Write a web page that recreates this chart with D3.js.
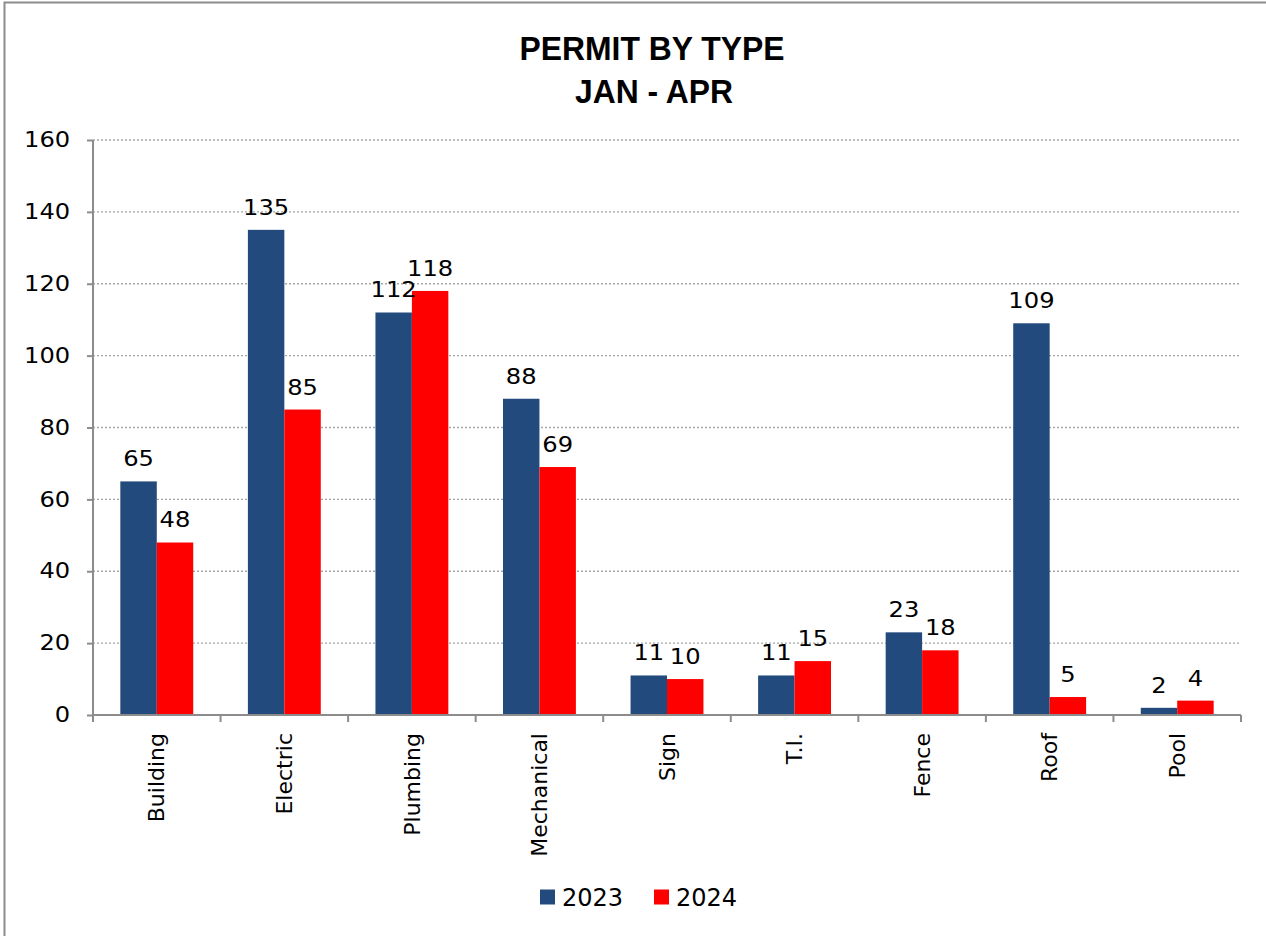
<!DOCTYPE html>
<html><head><meta charset="utf-8">
<script src="https://cdn.jsdelivr.net/npm/d3@7"></script>
<style>body{margin:0;background:#fff}svg{display:block}</style>
</head><body>
<script>
const categories = ["Building","Electric","Plumbing","Mechanical","Sign","T.I.","Fence","Roof","Pool"];
const series = ["2023","2024"];
const values2023 = [65,135,112,88,11,11,23,109,2];
const values2024 = [48,85,118,69,10,15,18,5,4];
const yTicks = [0,20,40,60,80,100,120,140,160];
const colors = ["#234A7C","#FF0000"];

const W=1266,H=936;
const svg=d3.select("body").append("svg").attr("width",W).attr("height",H);
svg.append("path").attr("d",`M4.5,${H} V2.5 H${W}`).attr("fill","none").attr("stroke","#8c8c8c").attr("stroke-width",2);

const m={l:93,r:1241,t:140,b:715};
const x=d3.scaleBand().domain(categories).range([m.l,m.r]).paddingInner(0).paddingOuter(0);
const xs=d3.scaleBand().domain(series).range([0,x.bandwidth()]).paddingInner(0).paddingOuter(0.75);
const y=d3.scaleLinear().domain([0,160]).range([m.b,m.t]);

const font="'DejaVu Sans', sans-serif";
svg.append("g").selectAll("line").data(yTicks.filter(d=>d>0)).join("line")
  .attr("x1",m.l).attr("x2",m.r).attr("y1",d=>y(d)).attr("y2",d=>y(d))
  .attr("stroke","#a6a6a6").attr("stroke-width",1.3).attr("stroke-dasharray","2,2");

const data=categories.map((c,i)=>({c,vals:[values2023[i],values2024[i]]}));
const g=svg.append("g").selectAll("g").data(data).join("g").attr("transform",d=>`translate(${x(d.c)},0)`);
g.selectAll("rect").data(d=>d.vals.map((v,j)=>({v,s:series[j],j}))).join("rect")
  .attr("x",d=>xs(d.s)).attr("width",xs.bandwidth())
  .attr("y",d=>y(d.v)).attr("height",d=>y(0)-y(d.v)).attr("fill",d=>colors[d.j]);
g.selectAll("text").data(d=>d.vals.map((v,j)=>({v,s:series[j],j}))).join("text")
  .attr("x",d=>xs(d.s)+xs.bandwidth()/2).attr("y",d=>y(d.v)-15)
  .attr("text-anchor","middle").attr("font-family",font).attr("font-size",22).attr("fill","#000")
  .attr("transform-origin",d=>`${xs(d.s)+xs.bandwidth()/2}px 0px`).style("transform","scaleX(1.1)")
  .text(d=>d.v);

const ya=svg.append("g").attr("transform",`translate(${m.l},0)`)
  .call(d3.axisLeft(y).tickValues(yTicks).tickSize(6).tickPadding(23));
ya.select(".domain").attr("stroke","#8c8c8c").attr("stroke-width",2).attr("d",`M0,${m.t}V${m.b}`);
ya.selectAll(".tick line").attr("stroke","#8c8c8c").attr("stroke-width",2);
ya.selectAll(".tick text").attr("font-family",font).attr("font-size",21).attr("fill","#000")
  .attr("transform","translate(-70,0) scale(1.15,1) translate(70,0)");

const xa=svg.append("g").attr("transform",`translate(0,${m.b})`)
  .call(d3.axisBottom(x).tickSize(0).tickPadding(0));
xa.select(".domain").attr("stroke","#8c8c8c").attr("stroke-width",2).attr("d",`M${m.l},0H${m.r}`);
xa.selectAll(".tick text").attr("font-family",font).attr("font-size",22).attr("fill","#000")
  .attr("transform","rotate(-90)").attr("text-anchor","end").attr("dy","0.35em").attr("x",-18).attr("y",0);
const bounds=categories.map(c=>x(c)).concat([m.r]);
xa.append("g").selectAll("line").data(bounds).join("line")
  .attr("x1",d=>d).attr("x2",d=>d).attr("y1",0).attr("y2",7).attr("stroke","#8c8c8c").attr("stroke-width",2);

const tfont="'Liberation Sans Narrow','Arial Narrow','Liberation Sans',sans-serif";
svg.append("text").attr("x",652).attr("y",60).attr("text-anchor","middle")
  .attr("font-family",tfont).attr("font-weight","bold").attr("font-size",34)
  .attr("textLength",265).attr("lengthAdjust","spacingAndGlyphs")
  .text("PERMIT BY TYPE");
svg.append("text").attr("x",654).attr("y",103).attr("text-anchor","middle")
  .attr("font-family",tfont).attr("font-weight","bold").attr("font-size",34)
  .attr("textLength",158).attr("lengthAdjust","spacingAndGlyphs")
  .text("JAN - APR");

const lg=svg.append("g").attr("transform","translate(540,897)");
const items=[{s:"2023",x:0},{s:"2024",x:114}];
items.forEach((it,i)=>{
  lg.append("rect").attr("x",it.x).attr("y",-7.5).attr("width",15).attr("height",15).attr("fill",colors[i]);
  lg.append("text").attr("x",it.x+22).attr("y",0).attr("dy","0.36em").attr("font-family",font).attr("font-size",24).text(it.s);
});
</script>
</body></html>
